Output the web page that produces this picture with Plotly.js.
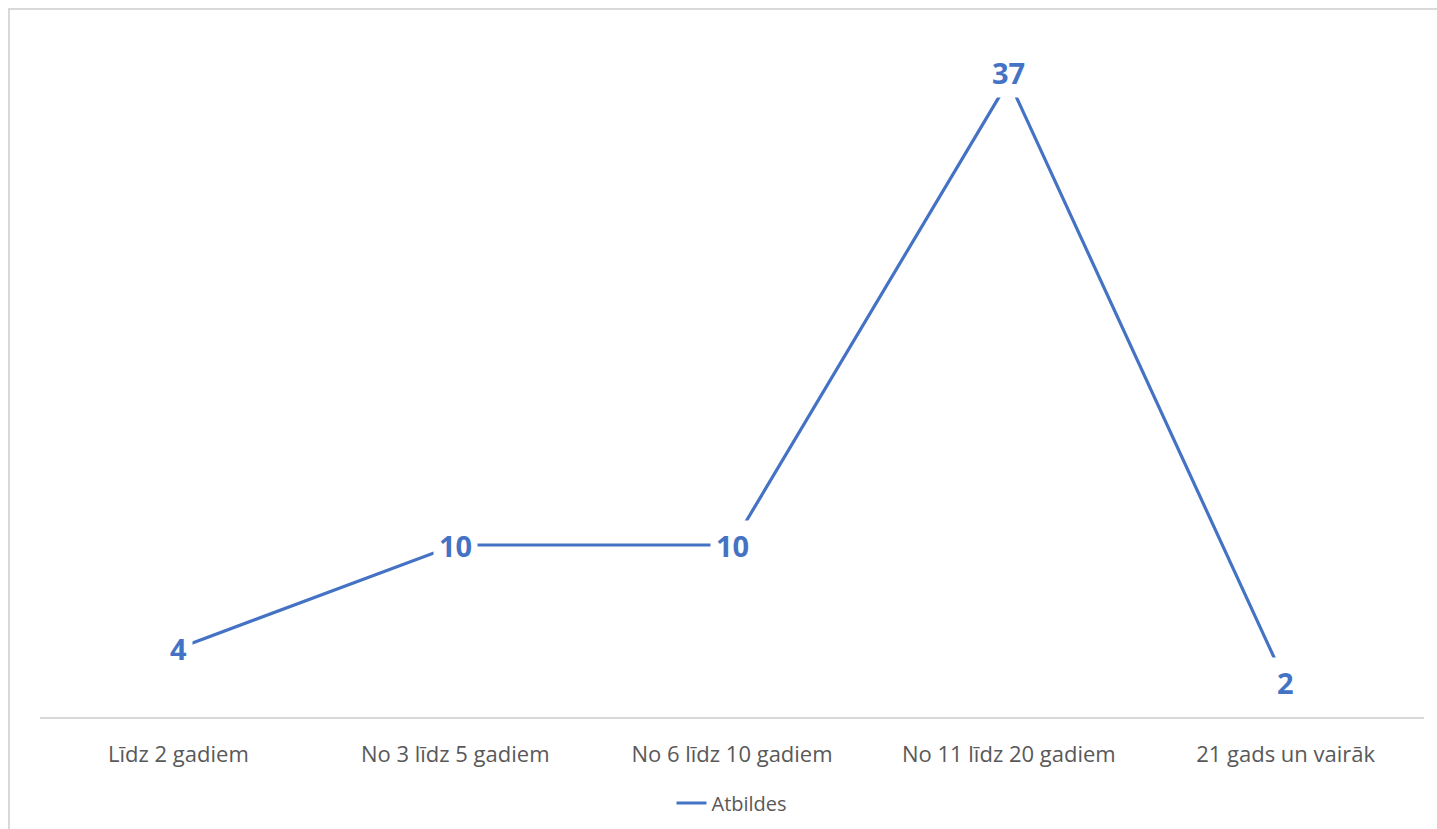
<!DOCTYPE html>
<html>
<head>
<meta charset="utf-8">
<script src="https://cdn.plot.ly/plotly-3.0.1.min.js"></script>
<style>
  body { margin: 0; background: #fff; }
  #plot { position: absolute; left: 0; top: 0; width: 1437px; height: 829px; }
  #frame { position: absolute; left: 8px; top: 8px; width: 1440px; height: 830px;
           border: 2px solid #d9d9d9; pointer-events: none; }
</style>
</head>
<body>
<div id="plot"></div>
<div id="frame"></div>
<script>
// categories and values
let categories = ["Līdz 2 gadiem", "No 3 līdz 5 gadiem", "No 6 līdz 10 gadiem", "No 11 līdz 20 gadiem", "21 gads un vairāk"];
let answers = [4, 10, 10, 37, 2];
let seriesName = "Atbildes";

let blue = "#4472C4";
let grey = "#595959";

let trace1 = {
  x: categories,
  y: answers,
  type: "scatter",
  mode: "lines",
  name: seriesName,
  line: { color: blue, width: 3.2 },
  showlegend: true
};

// value labels sit on the points, white box breaks the line
let maxVal = Math.max.apply(null, answers);
let labels = answers.map(function (v, i) {
  return {
    x: categories[i],
    y: v,
    text: String(v),
    showarrow: false,
    bgcolor: "#ffffff",
    borderpad: 5,
    yshift: v === maxVal ? 8 : 0,
    font: { family: "Open Sans, sans-serif", size: 29, color: blue, weight: "bold" }
  };
});

let layout = {
  width: 1437,
  height: 829,
  margin: { l: 40, r: 13, t: 29, b: 112, autoexpand: false },
  paper_bgcolor: "#ffffff",
  plot_bgcolor: "#ffffff",
  font: { family: "Open Sans, sans-serif", color: grey },
  xaxis: {
    type: "category",
    range: [-0.5, categories.length - 0.5],
    automargin: false,
    showgrid: false,
    zeroline: false,
    showline: true,
    linecolor: "#d9d9d9",
    linewidth: 2,
    ticks: "",
    ticklabelstandoff: 17,
    tickfont: { size: 22, color: grey }
  },
  yaxis: {
    range: [0, 40],
    visible: false,
    showgrid: false,
    zeroline: false
  },
  showlegend: true,
  legend: {
    orientation: "h",
    x: 0.5,
    xanchor: "center",
    yref: "container",
    y: 1 - 803 / 829,
    yanchor: "middle",
    font: { size: 20, color: grey }
  },
  annotations: labels
};

Plotly.newPlot("plot", [trace1], layout, { staticPlot: true });
</script>
</body>
</html>
